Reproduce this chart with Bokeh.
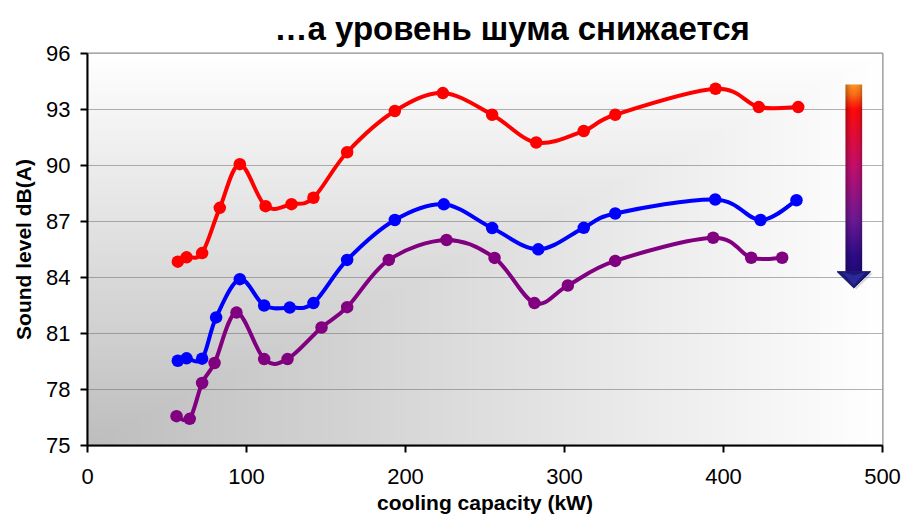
import numpy as np
from bokeh.plotting import figure
from bokeh.models import Range1d, FixedTicker
from bokeh.embed import file_html
from bokeh.resources import INLINE

# ---- data ----
x_ticks = [0, 100, 200, 300, 400, 500]
y_ticks = [75, 78, 81, 84, 87, 90, 93, 96]

red_x = [56.8, 62.3, 72.1, 83.2, 95.8, 112.0, 128.3, 142.1, 163.3, 193.3, 223.5, 254.5, 282.2, 312.1, 331.9, 395.0, 422.2, 447.0]
red_y = [84.85, 85.08, 85.31, 87.73, 90.07, 87.82, 87.93, 88.27, 90.71, 92.92, 93.88, 92.72, 91.23, 91.85, 92.72, 94.11, 93.13, 93.13]

blue_x = [56.8, 62.3, 72.1, 80.9, 95.8, 111.1, 127.2, 142.1, 163.3, 193.3, 224.1, 254.5, 283.5, 312.1, 331.9, 394.8, 423.3, 445.9]
blue_y = [79.54, 79.67, 79.65, 81.86, 83.91, 82.50, 82.39, 82.63, 84.94, 87.08, 87.92, 86.65, 85.51, 86.66, 87.43, 88.18, 87.08, 88.14]

purple_x = [56.0, 64.3, 72.1, 79.9, 93.7, 111.1, 125.8, 147.2, 163.3, 189.5, 225.8, 256.0, 281.1, 302.1, 331.9, 393.5, 417.4, 436.9]
purple_y = [76.57, 76.43, 78.35, 79.42, 82.12, 79.63, 79.63, 81.32, 82.41, 84.94, 86.01, 85.05, 82.63, 83.57, 84.89, 86.13, 85.06, 85.06]

series = [(red_x, red_y, "#ff0000"), (blue_x, blue_y, "#0000ff"), (purple_x, purple_y, "#800080")]

X0, X1, Y0, Y1 = 0, 500, 75, 96

p = figure(width=906, height=516, x_range=Range1d(X0, X1), y_range=Range1d(Y0, Y1),
           output_backend="svg", toolbar_location=None,
           title="…а уровень шума снижается",
           min_border_left=87, min_border_right=24, min_border_top=53, min_border_bottom=70)

p.background_fill_color = "white"
p.border_fill_color = "white"
p.outline_line_color = "#8c8c8c"
p.outline_line_width = 2

# title
p.title.text_font = "Liberation Sans"
p.title.text_font_size = "33px"
p.title.text_font_style = "bold"
p.title.text_color = "black"
p.title.align = "left"
p.title.offset = 187
p.title.standoff = 13

# plot-area gradient background (dark at lower-left corner)
nx, ny = 200, 100
u = np.linspace(0, 1, nx)[None, :]
v = np.linspace(0, 1, ny)[:, None]
g = (190 + 65 * np.maximum(u, v)).astype(np.uint32)
img = (255 << 24) | (g << 16) | (g << 8) | g
p.image_rgba(image=[img.astype(np.uint32)], x=X0, y=Y0, dw=X1 - X0, dh=Y1 - Y0, level="image")

# axes
for ax in (p.xaxis, p.yaxis):
    ax.axis_line_width = 2
    ax.axis_line_color = "black"
    ax.major_tick_line_width = 2
    ax.major_tick_line_color = "black"
    ax.major_tick_out = 7
    ax.major_tick_in = 0
    ax.minor_tick_line_color = None
    ax.major_label_text_font = "Liberation Sans"
    ax.major_label_text_font_size = "22px"
    ax.major_label_text_color = "black"
    ax.axis_label_text_font = "Liberation Sans"
    ax.axis_label_text_font_size = "21px"
    ax.axis_label_text_font_style = "bold"
    ax.axis_label_text_color = "black"

p.xaxis.ticker = FixedTicker(ticks=x_ticks)
p.yaxis.ticker = FixedTicker(ticks=y_ticks)
p.xaxis.axis_label = "cooling capacity (kW)"
p.yaxis.axis_label = "Sound level dB(A)"
p.xaxis.major_label_standoff = 16
p.xaxis.axis_label_standoff = 4
p.yaxis.major_label_standoff = 10
p.yaxis.axis_label_standoff = 8

p.xgrid.grid_line_color = None
p.ygrid.grid_line_color = "#666666"
p.ygrid.grid_line_dash = "1 1"
p.ygrid.grid_line_width = 1


def smooth_segments(xs, ys):
    pts = np.column_stack([xs, ys]).astype(float)
    n = len(pts)
    out = {k: [] for k in ("x0", "y0", "x1", "y1", "cx0", "cy0", "cx1", "cy1")}
    for i in range(n - 1):
        p0 = pts[i - 1] if i > 0 else pts[i]
        p1 = pts[i]
        p2 = pts[i + 1]
        p3 = pts[i + 2] if i + 2 < n else pts[i + 1]
        c0 = p1 + (p2 - p0) / 6.0
        c1 = p2 - (p3 - p1) / 6.0
        out["x0"].append(p1[0]); out["y0"].append(p1[1])
        out["x1"].append(p2[0]); out["y1"].append(p2[1])
        out["cx0"].append(c0[0]); out["cy0"].append(c0[1])
        out["cx1"].append(c1[0]); out["cy1"].append(c1[1])
    return out


for xs, ys, col in series:
    s = smooth_segments(xs, ys)
    p.bezier(x0=s["x0"], y0=s["y0"], x1=s["x1"], y1=s["y1"],
             cx0=s["cx0"], cy0=s["cy0"], cx1=s["cx1"], cy1=s["cy1"],
             line_color=col, line_width=4)
    p.scatter(xs, ys, size=12.5, fill_color=col, line_color=col, line_width=0)

# decorative gradient arrow (top right)
ax_l, ax_r = 476.7, 487.2
ay_top, ay_base, ay_tip = 94.34, 84.31, 83.44
hx_l, hx_r = 471.5, 492.5
stops_t = [0.0, 0.05, 0.13, 0.44, 0.72, 0.92, 1.0]
stops_c = [(255, 150, 40), (255, 110, 20), (255, 10, 10), (195, 15, 110), (110, 25, 150), (45, 12, 135), (35, 10, 125)]
rows, cols = 120, 16
tt = 1 - np.linspace(0, 1, rows)
cc = np.array(stops_c, dtype=float)
rgb = np.stack([np.interp(tt, stops_t, cc[:, k]) for k in range(3)], axis=1)
hs = 1.0 - 0.28 * np.abs(np.linspace(-1, 1, cols)) ** 2
arr = np.zeros((rows, cols), dtype=np.uint32)
for k, sh in enumerate(hs):
    r = np.clip(rgb[:, 0] * sh, 0, 255).astype(np.uint32)
    gg = np.clip(rgb[:, 1] * sh, 0, 255).astype(np.uint32)
    b = np.clip(rgb[:, 2] * sh, 0, 255).astype(np.uint32)
    arr[:, k] = (255 << 24) | (b << 16) | (gg << 8) | r
p.image_rgba(image=[arr], x=ax_l, y=ay_base, dw=ax_r - ax_l, dh=ay_top - ay_base)
xc = (ax_l + ax_r) / 2
p.patch([hx_l + 1.5, hx_r + 1.5, xc + 1.5], [ay_base - 0.08, ay_base - 0.08, ay_tip - 0.08],
        fill_color="#9090a0", fill_alpha=0.35, line_color=None)
p.patch([hx_l, hx_r, xc], [ay_base, ay_base, ay_tip], fill_color="#1c1878", line_color="#141060", line_width=1)
p.patch([hx_l + 3, xc, hx_r - 3, xc], [ay_base, ay_base - 0.2, ay_base, ay_tip + 0.15],
        fill_color="#2c2898", line_color=None)

open("out.html", "w").write(file_html(p, INLINE))
